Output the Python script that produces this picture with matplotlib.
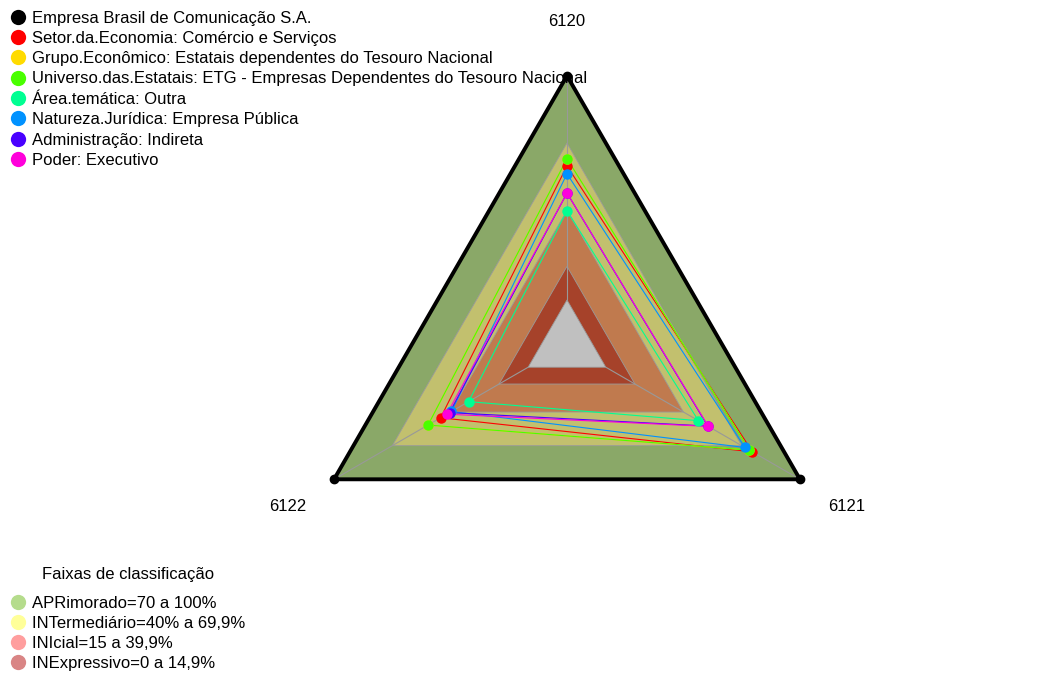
import numpy as np
import matplotlib
matplotlib.use("Agg")
import matplotlib.pyplot as plt
from matplotlib.lines import Line2D

plt.rcParams["font.family"] = ["Liberation Sans", "DejaVu Sans"]

# Eixos do radar (dimensões) e seus ângulos
axis_labels = ["6120", "6121", "6122"]
axis_angles = [90, -30, 210]

series_names = [
    "Empresa Brasil de Comunicação S.A.",
    "Setor.da.Economia: Comércio e Serviços",
    "Grupo.Econômico: Estatais dependentes do Tesouro Nacional",
    "Universo.das.Estatais: ETG - Empresas Dependentes do Tesouro Nacional",
    "Área.temática: Outra",
    "Natureza.Jurídica: Empresa Pública",
    "Administração: Indireta",
    "Poder: Executivo",
]
series_colors = ["#000000", "#FF0000", "#FFDB00", "#49FF00",
                 "#00FF92", "#0092FF", "#4900FF", "#FF00DB"]

# notas (%) por eixo: 6120, 6121, 6122
empresa = [100.0, 100.0, 100.0]
setor = [59.8, 75.5, 45.1]
grupo = [63.0, 74.0, 51.6]
universo = [63.0, 74.0, 51.6]
area = [39.8, 47.7, 30.7]
natureza = [56.3, 71.6, 39.5]
administracao = [47.7, 52.5, 40.5]
poder = [47.7, 52.8, 41.9]
series_values = [empresa, setor, grupo, universo, area, natureza, administracao, poder]

# faixas de classificação
band_title = "Faixas de classificação"
band_names = ["APRimorado=70 a 100%", "INTermediário=40% a 69,9%",
              "INIcial=15 a 39,9%", "INExpressivo=0 a 14,9%"]
band_upper = [100, 70, 40, 15]
band_fill = ["#8AA868", "#C2C06E", "#C07A4E", "#A6422A"]
band_legend = ["#B5DC8C", "#FFFF99", "#FF9E9E", "#D98585"]
center_fill = "#C0C0C0"

n_seg = 5


def radius(v):
    # escala com centro deslocado (não parte do zero)
    return 1.0 / (n_seg + 1) + np.asarray(v) / 100.0 * n_seg / (n_seg + 1)


theta = np.deg2rad(axis_angles)


def to_xy(vals):
    r = radius(vals)
    x = r * np.cos(theta)
    y = r * np.sin(theta)
    return np.append(x, x[0]), np.append(y, y[0])


W, H = 1047, 673
cx, cy, R = 567, 344.8, 269.0
fig = plt.figure(figsize=(W / 100, H / 100), dpi=100)
ax = fig.add_axes([0, 0, 1, 1])
ax.set_xlim(-cx / R, (W - cx) / R)
ax.set_ylim(-(H - cy) / R, cy / R)
ax.axis("off")

# faixas preenchidas
for up, col in zip(band_upper, band_fill):
    x, y = to_xy([up] * 3)
    ax.fill(x, y, color=col, ec="#9a9a9a", lw=0.6, zorder=1)
x, y = to_xy([0] * 3)
ax.fill(x, y, color=center_fill, ec="#9a9a9a", lw=0.6, zorder=1)

# linhas dos eixos
for t in theta:
    r0 = radius(0)
    ax.plot([r0 * np.cos(t), np.cos(t)], [r0 * np.sin(t), np.sin(t)],
            color="#999999", lw=0.8, zorder=2)

# séries
for i, (vals, col) in enumerate(zip(series_values, series_colors)):
    x, y = to_xy(vals)
    if i == 0:
        ax.plot(x, y, color=col, lw=2.8, zorder=3)
        ax.plot(x[:-1], y[:-1], "o", color=col, ms=6, zorder=4)
    else:
        ax.plot(x, y, color=col, lw=0.8, zorder=3)
        ax.plot(x[:-1], y[:-1], "o", color=col, ms=7.5, mec="none", zorder=4)

# rótulos dos eixos
for lab, t in zip(axis_labels, theta):
    ax.text(1.2 * np.cos(t), 1.2 * np.sin(t), lab, ha="center", va="center",
            fontsize=12)

leg_kw = dict(loc="upper left", bbox_transform=fig.transFigure, frameon=False,
              fontsize=12, handlelength=1.0, handletextpad=0.34, labelspacing=0.32,
              borderpad=0, borderaxespad=0)

handles = [Line2D([], [], marker="o", ls="none", color=c, mec="none", markersize=11)
           for c in series_colors]
leg1 = ax.legend(handles, series_names, bbox_to_anchor=(9.7 / W, 1 - 10.5 / H), **leg_kw)
leg1.set_zorder(2.5)
ax.add_artist(leg1)

band_handles = [Line2D([], [], marker="o", ls="none", color=c, mec="none", markersize=11)
                for c in band_legend]
ax.legend(band_handles, band_names, bbox_to_anchor=(9.7 / W, 1 - 596 / H),
          **dict(leg_kw, labelspacing=0.3))
fig.text(128.5 / W, 1 - 575 / H, band_title, ha="center", va="center", fontsize=12)

fig.savefig("out.png", dpi=100)
